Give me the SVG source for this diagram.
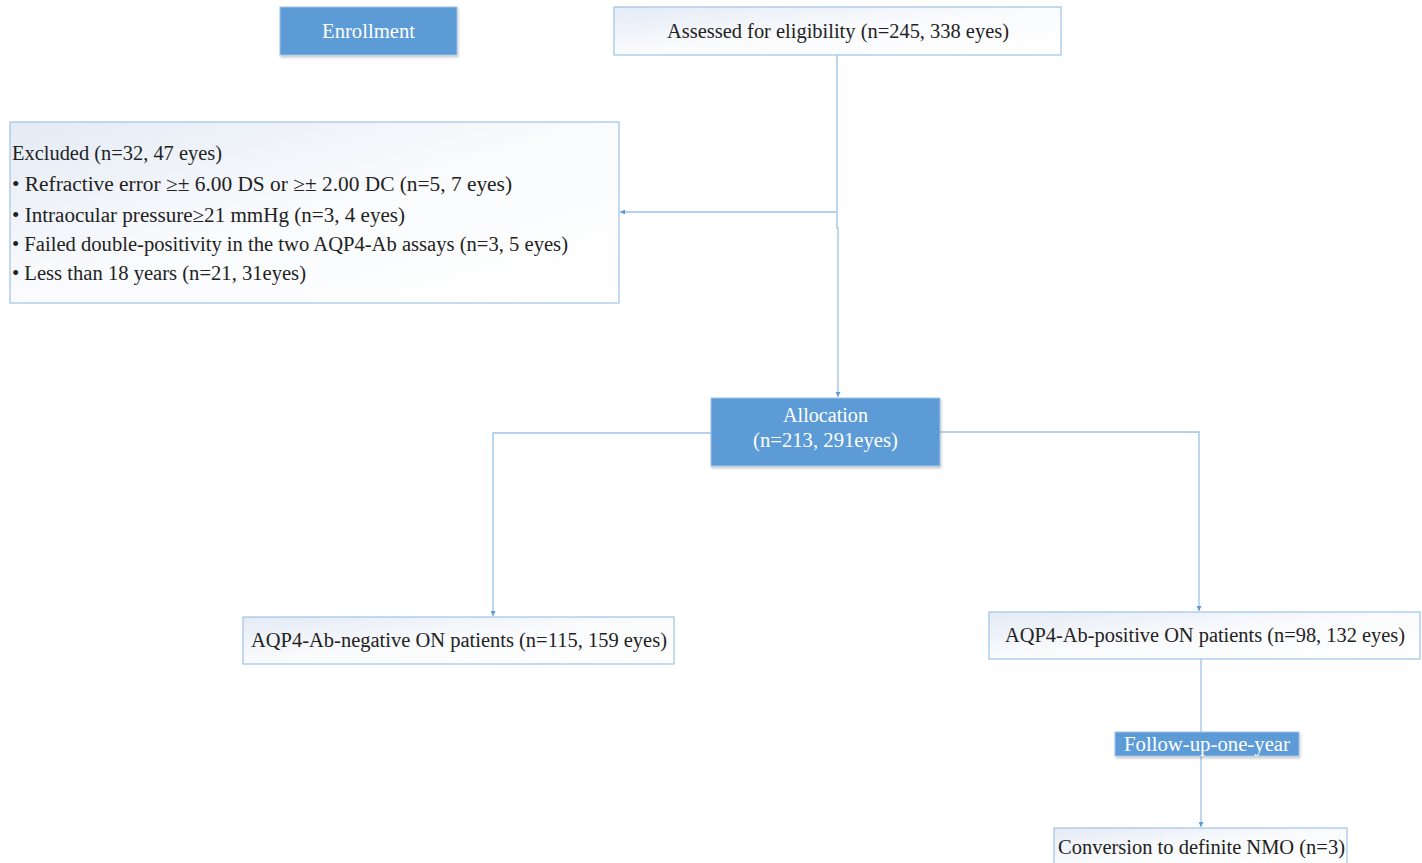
<svg xmlns="http://www.w3.org/2000/svg" width="1422" height="863" viewBox="0 0 1422 863">
<style>
text{font-family:"Liberation Serif","Times New Roman",serif;font-size:20px;fill:#222}
.w{fill:#fff}
.blue{fill:#5b9bd5;stroke:#9dc3e6;stroke-width:1}
.light{fill:url(#g);stroke:#9dc3e6;stroke-width:1.2}
.c{fill:none;stroke:#9dc3e6;stroke-width:1.3}
</style>
<defs>
<linearGradient id="g" x1="0" y1="0" x2="1" y2="1">
<stop offset="0" stop-color="#e4ebf5"/>
<stop offset="0.5" stop-color="#fafbfd"/>
<stop offset="1" stop-color="#ffffff"/>
</linearGradient>
<marker id="a" viewBox="0 0 10 10" refX="10" refY="5" markerWidth="5" markerHeight="5" orient="auto" markerUnits="userSpaceOnUse">
<path d="M0,0L10,5L0,10z" fill="#5b9bd5"/>
</marker>
<filter id="s" x="-5%" y="-5%" width="110%" height="120%">
<feDropShadow dx="1" dy="2" stdDeviation="1" flood-color="#000" flood-opacity="0.2"/>
</filter>
</defs>
<g id="connectors">
<path class="c" d="M837,55V228H838V397" marker-end="url(#a)"/>
<path class="c" d="M837,212H620" marker-end="url(#a)"/>
<path class="c" d="M711,433H493V616" marker-end="url(#a)"/>
<path class="c" d="M940,432H1199V611" marker-end="url(#a)"/>
<path class="c" d="M1201,659V827" marker-end="url(#a)"/>
</g>
<g id="enrollment">
<rect class="blue" x="280" y="7" width="177" height="48" filter="url(#s)"/>
<text class="w" x="368.5" y="38" text-anchor="middle" textLength="93" lengthAdjust="spacingAndGlyphs">Enrollment</text>
</g>
<g id="assessed">
<rect class="light" x="614" y="7" width="447" height="48"/>
<text x="838" y="38" text-anchor="middle" textLength="342" lengthAdjust="spacingAndGlyphs">Assessed for eligibility (n=245, 338 eyes)</text>
</g>
<g id="excluded">
<rect class="light" x="10" y="122" width="609" height="181"/>
<text x="12" y="160" textLength="210" lengthAdjust="spacingAndGlyphs">Excluded (n=32, 47 eyes)</text>
<text x="12" y="191" textLength="500" lengthAdjust="spacingAndGlyphs">• Refractive error ≥± 6.00 DS or ≥± 2.00 DC (n=5, 7 eyes)</text>
<text x="12" y="222" textLength="393" lengthAdjust="spacingAndGlyphs">• Intraocular pressure≥21 mmHg (n=3, 4 eyes)</text>
<text x="12" y="251" textLength="556" lengthAdjust="spacingAndGlyphs">• Failed double-positivity in the two AQP4-Ab assays (n=3, 5 eyes)</text>
<text x="12" y="280" textLength="294" lengthAdjust="spacingAndGlyphs">• Less than 18 years (n=21, 31eyes)</text>
</g>
<g id="allocation">
<rect class="blue" x="711" y="398" width="229" height="68" filter="url(#s)"/>
<text class="w" x="825.5" y="422" text-anchor="middle" textLength="85" lengthAdjust="spacingAndGlyphs">Allocation</text>
<text class="w" x="825.5" y="447" text-anchor="middle" textLength="145" lengthAdjust="spacingAndGlyphs">(n=213, 291eyes)</text>
</g>
<g id="negative">
<rect class="light" x="243" y="617" width="431" height="47"/>
<text x="459" y="647" text-anchor="middle" textLength="416" lengthAdjust="spacingAndGlyphs">AQP4-Ab-negative ON patients (n=115, 159 eyes)</text>
</g>
<g id="positive">
<rect class="light" x="989" y="612" width="431" height="47"/>
<text x="1205" y="642" text-anchor="middle" textLength="400" lengthAdjust="spacingAndGlyphs">AQP4-Ab-positive ON patients (n=98, 132 eyes)</text>
</g>
<g id="followup">
<rect class="blue" x="1115" y="732" width="184" height="24" filter="url(#s)"/>
<text class="w" x="1207" y="751" text-anchor="middle" textLength="166" lengthAdjust="spacingAndGlyphs">Follow-up-one-year</text>
</g>
<g id="conversion">
<rect class="light" x="1054" y="828" width="293" height="40"/>
<text x="1201.5" y="854" text-anchor="middle" textLength="287" lengthAdjust="spacingAndGlyphs">Conversion to definite NMO (n=3)</text>
</g>
</svg>
